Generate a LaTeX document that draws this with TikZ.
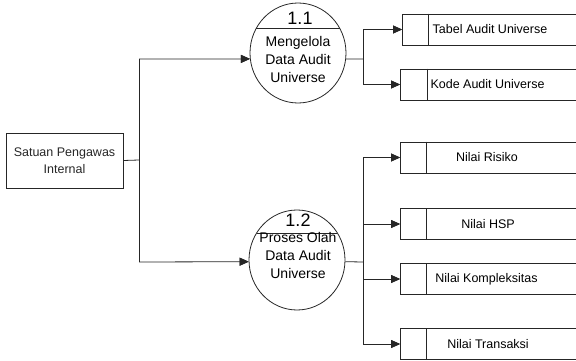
\documentclass[tikz,border=0pt]{standalone}
\usepackage{fontspec}
\setmainfont{Liberation Sans}
\usetikzlibrary{shapes.geometric,arrows.meta,calc}
\begin{document}
\begin{tikzpicture}[x=1pt,y=1pt,
  ln/.style={line width=0.8pt,color=black!85},
  flow/.style={line width=0.8pt,color=black!85,-{Triangle[length=9pt,width=8pt]}},
  tipfill/.style={fill=black!85},
  proc/.style={ln,draw,ellipse,minimum width=96pt,minimum height=100pt,inner sep=0pt},
  ent/.style={ln,draw,rectangle,minimum width=117pt,minimum height=55pt,inner sep=0pt,align=center,font=\fontsize{12.5}{17}\selectfont},
  store/.style={ln,draw,rectangle,anchor=west,minimum width=180pt,minimum height=31pt,inner sep=0pt},
  stxt/.style={font=\fontsize{12.5}{15}\selectfont,inner sep=0pt},
  ptxt/.style={align=center,font=\fontsize{14}{18}\selectfont,inner sep=0pt},
  pnum/.style={font=\fontsize{18}{20}\selectfont,inner sep=0pt}]
\useasboundingbox (0,0) rectangle (576,360);
% external entity
\node[ent] (spi) at (64.5,199.5) {Satuan Pengawas\\Internal};
% processes
\node[proc] (c1) at (298,307) {};
\node[proc] (c2) at (297,100) {};
\draw[ln] ($(c1.center)+(-41.6,25)$) -- ($(c1.center)+(41.6,25)$);
\draw[ln] ($(c2.center)+(-40.4,27)$) -- ($(c2.center)+(40.4,27)$);
\node[pnum] (n1) at (300,342) {1.1};
\node[pnum] (n2) at (298,139.5) {1.2};
\node[ptxt] (p1) at (298,301) {Mengelola\\Data Audit\\Universe};
\node[ptxt] (p2) at (298,104.5) {Proses Olah\\Data Audit\\Universe};
% data stores (open on the right, running past the picture's edge)
\begin{scope}
\clip (0,0) rectangle (576,360);
\node[store] (s1) at (402,330.5) {};
\node[store] (s2) at (400,275.5) {};
\node[store] (s3) at (400,202.5) {};
\node[store] (s4) at (400,136) {};
\node[store] (s5) at (400,81) {};
\node[store] (s6) at (400,16) {};
\end{scope}
\draw[ln] ($(s1.north west)+(26,0)$) -- ($(s1.south west)+(26,0)$);
\draw[ln] ($(s2.north west)+(27,0)$) -- ($(s2.south west)+(27,0)$);
\draw[ln] ($(s3.north west)+(26,0)$) -- ($(s3.south west)+(26,0)$);
\draw[ln] ($(s4.north west)+(26,0)$) -- ($(s4.south west)+(26,0)$);
\draw[ln] ($(s5.north west)+(26,0)$) -- ($(s5.south west)+(26,0)$);
\draw[ln] ($(s6.north west)+(26,0)$) -- ($(s6.south west)+(26,0)$);
\node[stxt] (t1) at (490,330.5) {Tabel Audit Universe};
\node[stxt] (t2) at (487.5,275.5) {Kode Audit Universe};
\node[stxt] (t3) at (487,202.5) {Nilai Risiko};
\node[stxt] (t4) at (488,136) {Nilai HSP};
\node[stxt] (t5) at (486.5,81) {Nilai Kompleksitas};
\node[stxt] (t6) at (488,16) {Nilai Transaksi};
% junction coordinates
\coordinate (k0) at (139,200);
\coordinate (ka) at (139,301);
\coordinate (kb) at (139,98);
\coordinate (j1) at (363,301);
\coordinate (j2) at (363,98);
\coordinate (ja) at (363,330.5);
\coordinate (jb) at (363,275.5);
\coordinate (jc) at (363,202.5);
\coordinate (jd) at (363,136);
\coordinate (je) at (363,81);
\coordinate (jf) at (363,16);
% connectors from entity
\draw[ln] (spi.east) -- (k0);
\draw[ln] (ka) -- (kb);
\draw[flow] (ka) -- (c1.187.2);
\draw[flow] (kb) -- (c2.182.4);
% connectors from process 1.1
\draw[ln] (c1.-7.2) -- (j1);
\draw[ln] (ja) -- (jb);
\draw[flow] (ja) -- (s1.west);
\draw[flow] (jb) -- (s2.west);
% connectors from process 1.2
\draw[ln] (c2.-2.4) -- (j2);
\draw[ln] (jc) -- (jf);
\draw[flow] (jc) -- (s3.west);
\draw[flow] (jd) -- (s4.west);
\draw[flow] (je) -- (s5.west);
\draw[flow] (jf) -- (s6.west);
% arrowheads (filled wedges at each connector end)
\foreach \t in {c1.187.2,c2.182.4,s1.west,s2.west,s3.west,s4.west,s5.west,s6.west}
  \fill[tipfill] (\t) -- ++(-9,4) -- ++(0,-8) -- cycle;
\end{tikzpicture}
\end{document}
